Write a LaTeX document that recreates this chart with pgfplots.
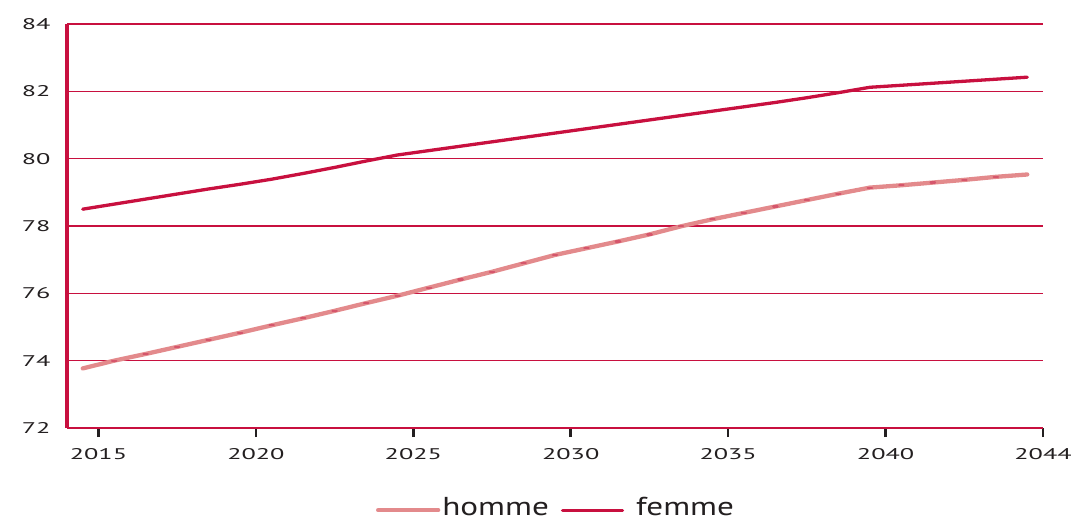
\documentclass[border=0pt]{standalone}
\usepackage{pgfplots}
\pgfplotsset{compat=1.18}
\usepackage{fontspec}
\setmainfont{PT Sans}
\newfontfamily\tickfont[FakeStretch=1.7]{PT Sans}
\newfontfamily\legfont[FakeStretch=1.28]{PT Sans}
\definecolor{crim}{HTML}{C8103F}
\definecolor{hommec}{HTML}{E38A8C}
\definecolor{hdot}{HTML}{D5566C}
\definecolor{txt}{HTML}{231F20}
\pgfplotstableread{
year homme femme
2014 73.77 78.50
2015 74.00 78.65
2016 74.20 78.80
2017 74.41 78.95
2018 74.62 79.10
2019 74.83 79.24
2020 75.05 79.39
2021 75.26 79.56
2022 75.48 79.74
2023 75.71 79.93
2024 75.93 80.11
2025 76.17 80.24
2026 76.41 80.37
2027 76.64 80.50
2028 76.89 80.63
2029 77.14 80.76
2030 77.34 80.89
2031 77.54 81.02
2032 77.75 81.15
2033 77.99 81.28
2034 78.20 81.41
2035 78.39 81.54
2036 78.58 81.67
2037 78.77 81.81
2038 78.96 81.96
2039 79.14 82.12
2040 79.21 82.18
2041 79.29 82.24
2042 79.37 82.30
2043 79.46 82.36
2044 79.53 82.42
}\datatable
\begin{document}
\begin{tikzpicture}
\useasboundingbox (-67bp,-94bp) rectangle (1013bp,428bp);
\begin{axis}[at={(0,0)}, anchor=south west, scale only axis,
  width=976bp, height=404bp,
  xmin=2013.5, xmax=2044.5, ymin=72, ymax=84, ytick={72,74,...,84},
  xtick={2014.5,2019.5,2024.5,2029.5,2034.5,2039.5,2044.5},
  xticklabels={2015,2020,2025,2030,2035,2040,2044},
  axis x line*=bottom, axis y line*=left,
  x axis line style={crim, line width=2.5bp},
  y axis line style={crim, line width=3.5bp},
  ymajorgrids, grid style={crim, line width=1.1bp},
  ytick style={draw=none},
  xtick style={txt, line width=2.6bp},
  tick align=outside, major tick length=9bp,
  /pgf/number format/assume math mode=true,
  ticklabel style={font=\fontsize{15.5}{18}\selectfont\tickfont, text=txt},
  yticklabel style={xshift=-4bp},
  xticklabel style={yshift=-8bp},
  legend style={at={(0.501,-0.196)}, anchor=center, draw=none, fill=none,
    legend columns=-1, font=\fontsize{26}{30}\selectfont\legfont, text=txt,
    /tikz/every even column/.append style={column sep=10bp}},
  legend image code/.code={\draw[#1, mark=none] (0bp,-3bp) -- (60bp,-3bp);},
]
\addplot[hommec, line width=4.3bp, line cap=round, mark=-, mark indices={2,...,30},
  mark size=2.2bp, mark options={draw=hdot, line width=2.2bp, line cap=round}]
  table[x=year, y=homme] {\datatable};
\addlegendentry{homme}
\addplot[crim, line width=3.3bp, line cap=round] table[x=year, y=femme] {\datatable};
\addlegendentry{\hspace*{10bp}femme}
\end{axis}
\end{tikzpicture}
\end{document}
